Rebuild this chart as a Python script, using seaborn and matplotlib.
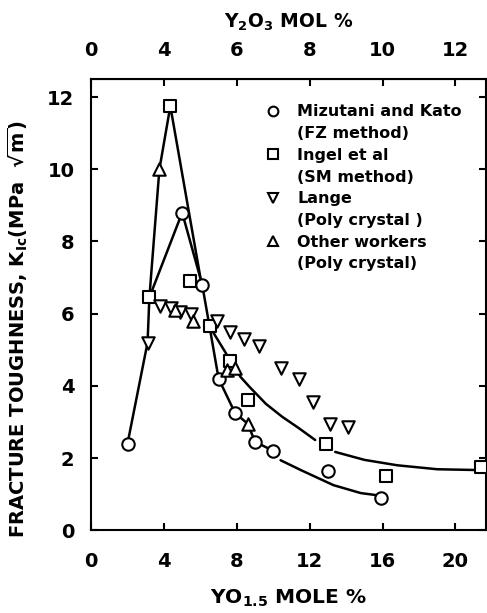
import pandas as pd
import matplotlib.pyplot as plt
import seaborn as sns
from matplotlib.lines import Line2D

# Mizutani and Kato (FZ method)
mk_x = [2.0, 5.0, 6.1, 7.0, 7.9, 9.0, 10.0, 13.0, 15.9]
mk_y = [2.4, 8.8, 6.8, 4.2, 3.25, 2.45, 2.2, 1.65, 0.9]

# Ingel et al (SM method)
ingel_x = [3.2, 4.35, 5.45, 6.5, 7.65, 8.6, 12.9, 16.2, 21.4]
ingel_y = [6.45, 11.75, 6.9, 5.65, 4.7, 3.6, 2.4, 1.5, 1.75]

# Lange (poly crystal)
lange_x = [3.1, 3.8, 4.4, 4.9, 5.5, 6.9, 7.6, 8.4, 9.2, 10.4, 11.4, 12.2, 13.1, 14.1]
lange_y = [5.2, 6.2, 6.15, 6.05, 6.0, 5.8, 5.5, 5.3, 5.1, 4.5, 4.2, 3.55, 2.95, 2.85]

# Other workers (poly crystal)
other_x = [3.75, 4.6, 5.6, 7.45, 7.9, 8.6]
other_y = [10.0, 6.1, 5.8, 4.45, 4.5, 2.95]

# trend lines drawn in the original figure
seg_ids = [1, 1, 1,
           2, 2, 2, 2,
           3, 3, 3, 3, 3, 3, 3, 3, 3,
           4, 4, 4, 4, 4,
           5, 5, 5, 5, 5, 5, 5, 5, 5,
           6, 6, 6, 6, 6]
seg_x = [2.0, 3.1, 3.2,
         3.2, 3.75, 4.35, 6.0,
         3.2, 5.0, 6.1, 6.5, 7.0, 7.9, 8.6, 9.0, 10.0,
         10.4, 11.5, 13.3, 14.8, 15.7,
         6.5, 7.65, 7.9, 8.2, 8.7, 9.6, 10.5, 11.4, 12.3,
         13.4, 15.0, 16.8, 19.0, 21.0]
seg_y = [2.4, 5.2, 6.45,
         6.45, 10.0, 11.75, 7.0,
         6.45, 8.8, 6.8, 5.65, 4.2, 3.25, 2.95, 2.45, 2.2,
         1.94, 1.67, 1.25, 1.03, 0.97,
         5.65, 4.7, 4.5, 4.25, 3.97, 3.5, 3.14, 2.83, 2.5,
         2.17, 1.95, 1.8, 1.69, 1.67]

x_ticks = [0, 4, 8, 12, 16, 20]
top_tick_labels = ['0', '4', '6', '8', '10', '12']
y_ticks = [0, 2, 4, 6, 8, 10, 12]

series = [
    ('Mizutani and Kato', '(FZ method)', 'o', mk_x, mk_y),
    ('Ingel et al', '(SM method)', 's', ingel_x, ingel_y),
    ('Lange', '(Poly crystal )', 'v', lange_x, lange_y),
    ('Other workers', '(Poly crystal)', '^', other_x, other_y),
]

sns.set_style("ticks")
plt.rcParams['font.family'] = ['DejaVu Sans']
plt.rcParams['font.weight'] = 'bold'
plt.rcParams['mathtext.default'] = 'bf'
plt.rcParams['text.color'] = 'black'
plt.rcParams['axes.labelcolor'] = 'black'
plt.rcParams['xtick.color'] = 'black'
plt.rcParams['ytick.color'] = 'black'
plt.rcParams['axes.edgecolor'] = 'black'

fig = plt.figure(figsize=(4.87, 6.13), dpi=100)
ax = fig.add_axes([0.187, 0.135, 0.81, 0.736])

lines_df = pd.DataFrame({'seg': seg_ids, 'x': seg_x, 'y': seg_y})
sns.lineplot(data=lines_df, x='x', y='y', units='seg', estimator=None,
             sort=False, color='black', linewidth=1.8, ax=ax, zorder=2)

for name, sub, mk, xs, ys in series:
    sns.scatterplot(x=xs, y=ys, marker=mk, s=80, facecolor='white',
                    edgecolor='black', linewidth=1.5, ax=ax, zorder=3)

ax.set_xlim(0, 21.65)
ax.set_ylim(0, 12.5)
ax.set_xticks(x_ticks)
ax.set_yticks(y_ticks)
for s in ax.spines.values():
    s.set_linewidth(1.5)
    s.set_visible(True)
ax.tick_params(direction='in', length=5, width=1.5, labelsize=14,
               right=True, top=False)
ax.tick_params(axis='x', pad=16)
ax.tick_params(axis='y', pad=12)

top = ax.secondary_xaxis('top')
top.set_xticks(x_ticks)
top.set_xticklabels(top_tick_labels)
top.tick_params(direction='in', length=5, width=1.5, labelsize=14, pad=14)
top.set_xlabel(r'Y$_2$O$_3$ MOL %', fontsize=13.5, fontweight='bold', labelpad=9)

ax.set_xlabel(r'YO$_{1.5}$ MOLE %', fontsize=14.5, fontweight='bold', labelpad=12)
ax.set_ylabel(r'FRACTURE TOUGHNESS, K$_{Ic}$(MPa  $\sqrt{m}$)',
              fontsize=14, fontweight='bold')
ax.yaxis.set_label_coords(-0.155, 0.445)

# legend: marker beside first line of each two-line entry
handles, labels = [], []
for name, sub, mk, xs, ys in series:
    handles.append(Line2D([], [], marker=mk, linestyle='none', markersize=7,
                          markerfacecolor='white', markeredgecolor='black',
                          markeredgewidth=1.5))
    labels.append(name)
    handles.append(Line2D([], [], linestyle='none'))
    labels.append(sub)
ax.legend(handles, labels, loc='upper left', bbox_to_anchor=(0.43, 0.958),
          frameon=False, fontsize=11.5, labelspacing=0.42,
          handlelength=0.8, handletextpad=1.1, borderaxespad=0)

fig.savefig('out.png', dpi=100)
